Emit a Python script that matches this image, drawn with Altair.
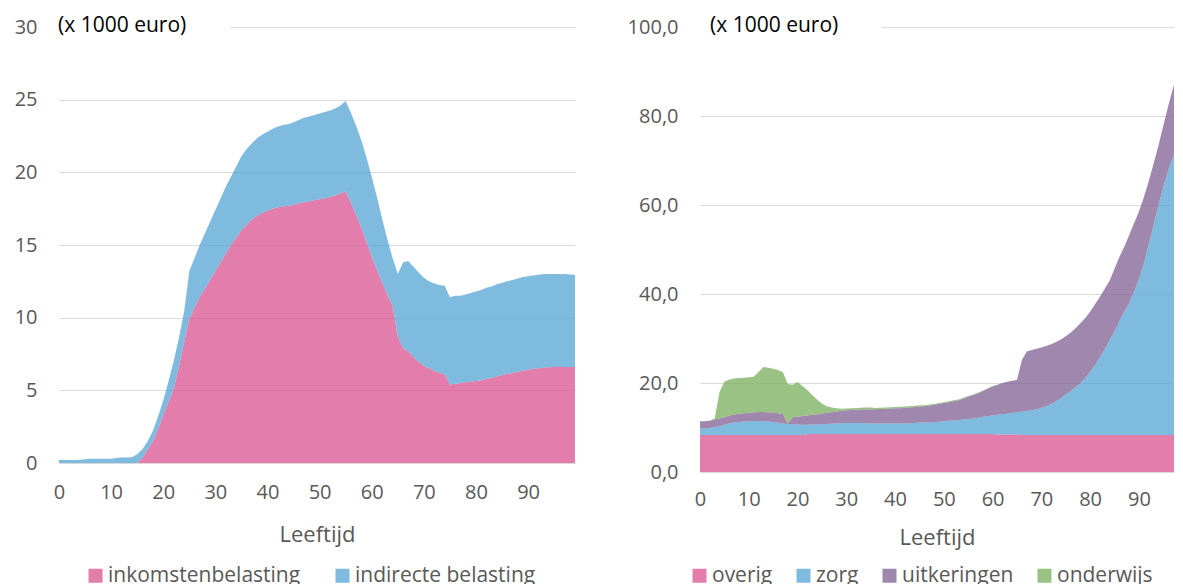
import altair as alt
import pandas as pd

# ---------------- data (x 1000 euro) ----------------
ages = list(range(100))

inkomstenbelasting = [
    0, 0, 0, 0, 0, 0, 0, 0, 0, 0,
    0, 0, 0, 0, 0, 0, 0.35, 0.9, 1.5, 2.3,
    3.3, 4.2, 5.1, 6.6, 8.3, 9.9, 10.7, 11.4, 12.0, 12.6,
    13.2, 13.8, 14.4, 15.0, 15.5, 16.0, 16.4, 16.75, 17.0, 17.2,
    17.35, 17.5, 17.6, 17.65, 17.7, 17.75, 17.85, 17.95, 18.0, 18.1,
    18.15, 18.2, 18.3, 18.4, 18.55, 18.7, 17.9, 17.1, 16.2, 15.2,
    14.2, 13.3, 12.4, 11.6, 10.8, 8.7, 7.9, 7.7, 7.3, 6.95,
    6.7, 6.5, 6.35, 6.2, 6.1, 5.4, 5.45, 5.5, 5.55, 5.6,
    5.65, 5.7, 5.78, 5.85, 5.95, 6.05, 6.12, 6.2, 6.28, 6.35,
    6.42, 6.48, 6.52, 6.56, 6.58, 6.6, 6.6, 6.6, 6.6, 6.6,
]
indirecte_belasting = [
    0.2, 0.2, 0.2, 0.2, 0.22, 0.25, 0.3, 0.3, 0.3, 0.3,
    0.3, 0.35, 0.38, 0.38, 0.4, 0.6, 0.6, 0.6, 0.7, 0.9,
    1.0, 1.4, 1.9, 2.0, 2.1, 3.3, 3.4, 3.6, 3.8, 4.0,
    4.2, 4.4, 4.6, 4.7, 4.9, 5.1, 5.2, 5.25, 5.35, 5.4,
    5.45, 5.5, 5.55, 5.6, 5.6, 5.7, 5.75, 5.8, 5.85, 5.85,
    5.9, 5.95, 5.95, 6.0, 6.05, 6.2, 6.2, 6.1, 6.0, 5.8,
    5.5, 5.0, 4.4, 3.8, 3.3, 4.3, 5.9, 6.2, 6.2, 6.15,
    6.05, 6.0, 6.0, 6.05, 6.1, 6.0, 6.05, 6.0, 6.05, 6.1,
    6.15, 6.2, 6.27, 6.3, 6.35, 6.35, 6.38, 6.4, 6.42, 6.45,
    6.43, 6.42, 6.43, 6.44, 6.42, 6.4, 6.4, 6.4, 6.37, 6.35,
]

overig = [
    8.3, 8.3, 8.3, 8.3, 8.3, 8.3, 8.3, 8.3, 8.3, 8.3,
    8.3, 8.3, 8.3, 8.3, 8.3, 8.3, 8.3, 8.3, 8.3, 8.3,
    8.3, 8.3, 8.55, 8.55, 8.55, 8.55, 8.55, 8.55, 8.55, 8.55,
    8.55, 8.55, 8.55, 8.55, 8.55, 8.55, 8.55, 8.55, 8.55, 8.55,
    8.55, 8.55, 8.55, 8.55, 8.55, 8.55, 8.55, 8.55, 8.55, 8.55,
    8.55, 8.55, 8.55, 8.55, 8.55, 8.55, 8.55, 8.55, 8.55, 8.55,
    8.55, 8.4, 8.4, 8.4, 8.4, 8.4, 8.3, 8.3, 8.3, 8.3,
    8.3, 8.3, 8.3, 8.3, 8.3, 8.3, 8.3, 8.3, 8.3, 8.3,
    8.3, 8.3, 8.3, 8.3, 8.3, 8.3, 8.3, 8.3, 8.3, 8.3,
    8.3, 8.3, 8.3, 8.3, 8.3, 8.3, 8.3, 8.3, 8.3, 8.3,
]
zorg = [
    1.5, 1.5, 1.6, 1.8, 2.0, 2.3, 2.6, 2.8, 2.95, 3.05,
    3.1, 3.15, 3.15, 3.1, 3.05, 2.9, 2.75, 2.6, 2.5, 2.45,
    2.35, 2.3, 2.05, 2.1, 2.15, 2.2, 2.25, 2.3, 2.35, 2.4,
    2.45, 2.45, 2.45, 2.45, 2.4, 2.4, 2.35, 2.35, 2.35, 2.35,
    2.35, 2.35, 2.35, 2.4, 2.45, 2.5, 2.55, 2.6, 2.65, 2.75,
    2.85, 2.95, 3.05, 3.15, 3.25, 3.35, 3.5, 3.65, 3.85, 4.0,
    4.15, 4.45, 4.55, 4.7, 4.85, 5.0, 5.25, 5.45, 5.6, 5.8,
    6.1, 6.5, 7.0, 7.6, 8.3, 9.1, 9.9, 10.8, 11.6, 12.8,
    14.2, 15.7, 17.5, 19.3, 21.3, 23.3, 25.6, 27.7, 29.7, 32.2,
    35.0, 38.5, 42.7, 47.1, 51.5, 55.7, 59.5, 62.5, 64.3, 65.7,
]
uitkeringen = [
    1.6, 1.6, 1.6, 1.7, 1.7, 1.7, 1.8, 1.8, 1.85, 1.85,
    1.9, 1.9, 2.05, 2.1, 2.05, 2.1, 2.15, 2.2, 0.1, 1.55,
    1.75, 2.0, 2.1, 2.2, 2.3, 2.35, 2.5, 2.6, 2.7, 2.8,
    2.85, 2.95, 3.0, 3.05, 3.15, 3.15, 3.2, 3.25, 3.3, 3.35,
    3.4, 3.45, 3.5, 3.55, 3.6, 3.65, 3.7, 3.8, 3.9, 4.0,
    4.1, 4.2, 4.3, 4.4, 4.7, 5.0, 5.25, 5.5, 5.8, 6.15,
    6.5, 6.75, 7.05, 7.2, 7.25, 7.3, 11.6, 13.35, 13.5, 13.6,
    13.6, 13.5, 13.4, 13.3, 13.2, 13.1, 13.1, 13.2, 13.5, 13.5,
    13.5, 13.7, 13.5, 13.6, 13.4, 14.1, 14.4, 14.6, 15.2, 15.4,
    15.2, 14.9, 14.3, 13.8, 13.5, 13.8, 14.4, 15.5, 17.4, 19.5,
]
onderwijs = [
    0, 0, 0, 0.2, 6.0, 8.0, 8.1, 8.1, 8.0, 8.0,
    8.0, 8.05, 9.0, 10.1, 10.0, 9.9, 9.7, 9.3, 8.9, 7.3,
    7.8, 6.7, 5.7, 4.45, 3.3, 2.3, 1.5, 1.05, 0.7, 0.45,
    0.4, 0.4, 0.4, 0.4, 0.4, 0.4, 0.3, 0.3, 0.3, 0.3,
    0.3, 0.3, 0.3, 0.3, 0.3, 0.3, 0.2, 0.2, 0.2, 0.2,
    0.2, 0.2, 0.2, 0.2, 0.2, 0.2, 0.1, 0.1, 0.1, 0.1,
    0.1, 0, 0, 0, 0, 0, 0, 0, 0, 0,
    0, 0, 0, 0, 0, 0, 0, 0, 0, 0,
    0, 0, 0, 0, 0, 0, 0, 0, 0, 0,
    0, 0, 0, 0, 0, 0, 0, 0, 0, 0,
]

left_names = ["inkomstenbelasting", "indirecte belasting"]
left_series = [inkomstenbelasting, indirecte_belasting]
right_names = ["overig", "zorg", "uitkeringen", "onderwijs"]
right_series = [overig, zorg, uitkeringen, onderwijs]

left_ticks_y = [0, 5, 10, 15, 20, 25, 30]
right_ticks_y = [0, 20, 40, 60, 80, 100]
ticks_x = [0, 10, 20, 30, 40, 50, 60, 70, 80, 90]
note_text = "(x 1000 euro)"

# ---------------- style ----------------
FONT = "Open Sans"
GREY = "#595959"
GRID = "#d9d9d9"
PINK = "#DA528F"
BLUE = "#54A3D4"
PURPLE = "#7F5F92"
GREEN = "#7AAE5C"
OPACITY = 0.75


def to_long(series_list, names):
    rows = []
    for k, (name, vals) in enumerate(zip(names, series_list)):
        for a, v in zip(ages, vals):
            rows.append({"Leeftijd": a, "waarde": v, "reeks": name, "volgorde": k})
    return pd.DataFrame(rows)


def panel(df, names, colors, xmax, ymax, yvals, ylabel_expr, w, h,
          legx, legy, colpad, note_dx, note_dy, box_w, xlabpad, xtitlepad):
    x = alt.X(
        "Leeftijd:Q",
        title="Leeftijd",
        scale=alt.Scale(domain=[0, xmax], nice=False, zero=False),
        axis=alt.Axis(
            values=ticks_x, grid=False, ticks=False, domain=False,
            labelFont=FONT, labelFontSize=20, labelColor=GREY,
            labelPadding=xlabpad, labelFlush=False, labelOverlap=False,
            titleFont=FONT, titleFontSize=22,
            titleFontWeight="normal", titleColor=GREY, titlePadding=xtitlepad,
        ),
    )
    y = alt.Y(
        "waarde:Q",
        title=None,
        stack="zero",
        scale=alt.Scale(domain=[0, ymax], nice=False),
        axis=alt.Axis(
            values=yvals, grid=True, gridColor=GRID, gridWidth=1,
            ticks=False, domain=False, labelFont=FONT, labelFontSize=20,
            labelColor=GREY, labelPadding=22, labelExpr=ylabel_expr,
            labelFlush=False,
        ),
    )
    area = alt.Chart(df).mark_area(opacity=OPACITY, clip=True, interpolate="linear").encode(
        x=x,
        y=y,
        color=alt.Color(
            "reeks:N",
            scale=alt.Scale(domain=names, range=colors),
            legend=alt.Legend(
                title=None, orient="none", legendX=legx, legendY=legy,
                direction="horizontal", symbolType="square", symbolSize=196,
                symbolStrokeWidth=0, symbolOpacity=OPACITY,
                labelFont=FONT, labelFontSize=21, labelColor=GREY,
                labelOffset=2, columnPadding=colpad, padding=0, labelLimit=400,
            ),
        ),
        order=alt.Order("volgorde:Q", sort="ascending"),
    )
    note_df = pd.DataFrame({"Leeftijd": [0], "waarde": [ymax], "tekst": [note_text]})
    box = alt.Chart(note_df).mark_rect(color="white").encode(
        x=alt.value(0), x2=alt.value(box_w), y=alt.value(-12), y2=alt.value(12)
    )
    note = alt.Chart(note_df).mark_text(
        align="left", baseline="middle", dx=note_dx, dy=note_dy,
        font=FONT, fontSize=21, color="#000000",
    ).encode(
        x=alt.X("Leeftijd:Q", title="Leeftijd"),
        y=alt.Y("waarde:Q", title=None),
        text="tekst:N",
    )
    return alt.layer(area, box, note).properties(width=w, height=h)


left = panel(
    to_long(left_series, left_names), left_names, [PINK, BLUE],
    99, 30, left_ticks_y, "format(datum.value, 'd')",
    516, 436, 26, 538, 31, -1, -1, 171, 19, 22,
)
right = panel(
    to_long(right_series, right_names), right_names, [PINK, BLUE, PURPLE, GREEN],
    97.2, 100, right_ticks_y, "replace(format(datum.value, '.1f'), '.', ',')",
    474, 445, -11, 538, 20, 10, -1, 182, 17, 18,
)

chart = (
    alt.hconcat(left, right, spacing=52)
    .resolve_scale(color="independent")
    .properties(padding={"left": 6, "top": 7, "right": 0, "bottom": 0})
    .configure_view(stroke=None)
)

chart.save("out.html", embed_options={"renderer": "svg", "actions": False})
